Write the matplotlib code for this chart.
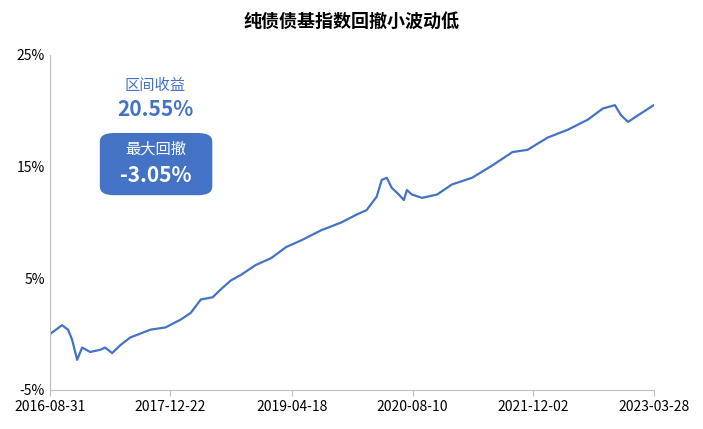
import matplotlib.pyplot as plt
import matplotlib.dates as mdates
from matplotlib.patches import FancyBboxPatch
import pandas as pd

plt.rcParams['font.family'] = ['Noto Sans CJK SC', 'DejaVu Sans']

dates = ['2016-08-31', '2016-10-18', '2016-11-11', '2016-11-27', '2016-12-17', '2017-01-06',
         '2017-02-07', '2017-03-19', '2017-04-07', '2017-05-05', '2017-06-06', '2017-07-16',
         '2017-10-04', '2017-12-03', '2018-02-01', '2018-03-13', '2018-04-22', '2018-06-08',
         '2018-07-10', '2018-08-19', '2018-09-28', '2018-11-27', '2019-01-26', '2019-03-27',
         '2019-05-26', '2019-08-13', '2019-11-01', '2019-12-31', '2020-02-09', '2020-03-20',
         '2020-04-09', '2020-04-29', '2020-05-19', '2020-06-16', '2020-07-06', '2020-07-18',
         '2020-08-07', '2020-09-16', '2020-11-15', '2021-01-13', '2021-04-03', '2021-06-22',
         '2021-09-10', '2021-11-09', '2022-01-28', '2022-04-18', '2022-07-06', '2022-09-04',
         '2022-10-22', '2022-11-15', '2022-12-13', '2023-01-22', '2023-03-28']
values = [0.0, 0.8, 0.4, -0.5, -2.3, -1.2, -1.6, -1.4, -1.2, -1.7, -1.0, -0.3,
          0.4, 0.6, 1.3, 1.9, 3.1, 3.3, 4.0, 4.8, 5.3, 6.2, 6.8, 7.8,
          8.4, 9.3, 10.0, 10.7, 11.1, 12.3, 13.8, 14.0, 13.1, 12.5, 12.0, 12.9,
          12.5, 12.2, 12.5, 13.4, 14.0, 15.1, 16.3, 16.5, 17.6, 18.3, 19.2, 20.2,
          20.5, 19.6, 19.0, 19.6, 20.55]
tick_dates = ['2016-08-31', '2017-12-22', '2019-04-18', '2020-08-10', '2021-12-02', '2023-03-28']
y_ticks = [-5, 5, 15, 25]

blue = '#4472C4'
fig = plt.figure(figsize=(7.03, 4.29), dpi=100)
ax = fig.add_axes([0.071, 0.091, 0.86, 0.781])
ax.plot(pd.to_datetime(dates), values, color=blue, lw=1.6)

ax.set_ylim(-5, 25)
ax.set_yticks(y_ticks)
ax.set_yticklabels([f'{v}%' for v in y_ticks])
ax.set_xlim(pd.Timestamp('2016-08-31'), pd.Timestamp('2023-03-28'))
ax.set_xticks(pd.to_datetime(tick_dates))
ax.xaxis.set_major_formatter(mdates.DateFormatter('%Y-%m-%d'))
ax.tick_params(axis='y', length=0, labelsize=10)
ax.tick_params(axis='x', length=4, color='#bfbfbf', labelsize=10)
for s in ['top', 'right']:
    ax.spines[s].set_visible(False)
for s in ['left', 'bottom']:
    ax.spines[s].set_color('#bfbfbf')

fig.text(0.5, 0.95, '纯债债基指数回撤小波动低', ha='center', va='center', fontsize=13, fontweight='bold')
fig.text(0.221, 0.80, '区间收益', ha='center', va='center', fontsize=11, color=blue)
fig.text(0.221, 0.745, '20.55%', ha='center', va='center', fontsize=15, fontweight='bold', color=blue)
box = FancyBboxPatch((0.142, 0.545), 0.160, 0.145, boxstyle='round,pad=0,rounding_size=0.02',
                     transform=fig.transFigure, facecolor=blue, edgecolor='none')
fig.patches.append(box)
fig.text(0.221, 0.652, '最大回撤', ha='center', va='center', fontsize=11, color='white')
fig.text(0.221, 0.59, '-3.05%', ha='center', va='center', fontsize=15, fontweight='bold', color='white')

fig.savefig('out.png', dpi=100)
